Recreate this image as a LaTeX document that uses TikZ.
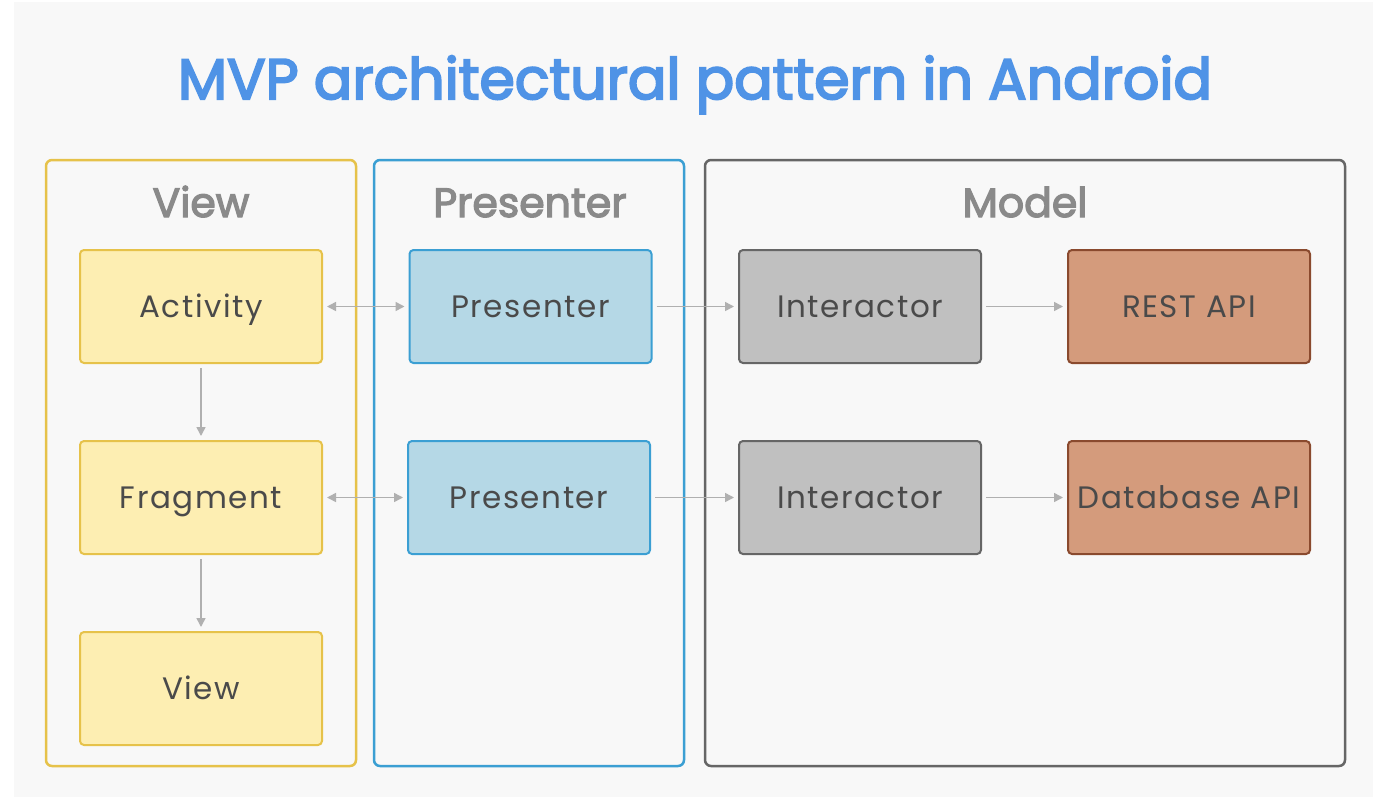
\documentclass[tikz,border=0pt]{standalone}
\usepackage{fontspec}
\setmainfont{Poppins}
\newfontfamily\medfont{Poppins}[FakeBold=3.5]
\newfontfamily\headfont{Poppins}[FakeBold=3]
\newfontfamily\boxfont{Poppins}[LetterSpace=5]
\usetikzlibrary{arrows.meta}
\definecolor{bg}{HTML}{F8F8F8}
\definecolor{titleblue}{HTML}{4F93E6}
\definecolor{headgray}{HTML}{8A8A8A}
\definecolor{txtgray}{HTML}{4A4A4A}
\definecolor{yelB}{HTML}{E6C24A}
\definecolor{yelF}{HTML}{FDEEB2}
\definecolor{bluB}{HTML}{3B9FD3}
\definecolor{bluF}{HTML}{B5D8E6}
\definecolor{gryB}{HTML}{666666}
\definecolor{gryF}{HTML}{C0C0C0}
\definecolor{orgB}{HTML}{8A4A2E}
\definecolor{orgF}{HTML}{D49B7C}
\definecolor{arr}{HTML}{B0B0B0}
\tikzset{
  frame/.style={line width=2.5pt, rounded corners=6pt, fill=bg},
  box/.style={line width=2pt, rounded corners=4pt, minimum width=242pt, minimum height=113pt, inner sep=0pt, text height=22pt, text depth=0pt, text=txtgray, font=\boxfont\fontsize{31}{31}\selectfont},
  ybox/.style={box, draw=yelB, fill=yelF},
  bbox/.style={box, draw=bluB, fill=bluF},
  gbox/.style={box, draw=gryB, fill=gryF},
  obox/.style={box, draw=orgB, fill=orgF},
  head/.style={text=headgray, font=\headfont\fontsize{41}{41}\selectfont, anchor=base, inner sep=0pt},
  conn/.style={draw=arr, line width=1.5pt, -{Triangle[length=9pt,width=9pt]}, shorten >=4pt, shorten <=4pt},
  biconn/.style={conn, {Triangle[length=9pt,width=9pt]}-{Triangle[length=9pt,width=9pt]}}
}
\begin{document}
\begin{tikzpicture}[x=1pt,y=-1pt]
\useasboundingbox (0,0) rectangle (1386,808);
\fill[white] (0,0) rectangle (1386,808);
\fill[bg] (14,2) rectangle (1373,797);
\node[text=titleblue, font=\medfont\fontsize{57}{57}\selectfont, anchor=base, inner sep=0pt] (title) at (695,99) {MVP architectural pattern in Android};
\draw[frame, draw=yelB] (46,160) rectangle (356,766);
\draw[frame, draw=bluB] (374,160) rectangle (684,766);
\draw[frame, draw=gryB] (705,160) rectangle (1345,766);
\node[head] (hview) at (201,217) {View};
\node[head] (hpres) at (530,217) {Presenter};
\node[head] (hmodel) at (1025,217) {Model};
\node[ybox] (act) at (201,306.5) {Activity};
\node[ybox] (frag) at (201,497.5) {Fragment};
\node[ybox] (view) at (201,688.5) {View};
\node[bbox] (p1) at (530.5,306.5) {Presenter};
\node[bbox] (p2) at (529,497.5) {Presenter};
\node[gbox] (i1) at (860,306.5) {Interactor};
\node[gbox] (i2) at (860,497.5) {Interactor};
\node[obox] (rest) at (1189,306.5) {REST API};
\node[obox] (db) at (1189,497.5) {Database API};
\draw[biconn] (act) -- (p1);
\draw[biconn] (frag) -- (p2);
\draw[conn] (p1) -- (i1);
\draw[conn] (p2) -- (i2);
\draw[conn] (i1) -- (rest);
\draw[conn] (i2) -- (db);
\draw[conn] (act) -- (frag);
\draw[conn] (frag) -- (view);
\end{tikzpicture}
\end{document}
